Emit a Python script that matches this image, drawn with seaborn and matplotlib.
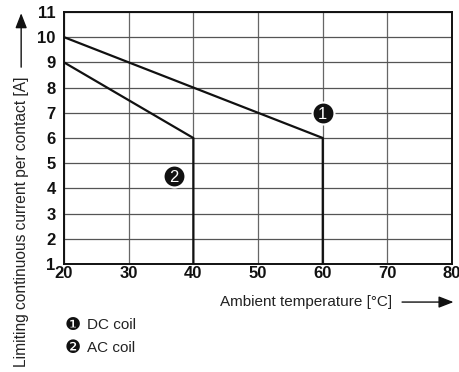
import numpy as np
import pandas as pd
import matplotlib
matplotlib.use("Agg")
import matplotlib.pyplot as plt
import seaborn as sns

# derating curves
temp_dc = [20, 60, 60]
current_dc = [10, 6, 1]
temp_ac = [20, 40, 40]
current_ac = [9, 6, 1]

coil_names = ["DC coil", "AC coil"]
badge_text = ["1", "2"]
badge_x = [60, 37]
badge_y = [7, 4.5]

x_ticks = [20, 30, 40, 50, 60, 70, 80]
y_ticks = list(range(1, 12))

df = pd.concat([
    pd.DataFrame({"temp": temp_dc, "current": current_dc, "coil": coil_names[0]}),
    pd.DataFrame({"temp": temp_ac, "current": current_ac, "coil": coil_names[1]}),
])

sns.set_theme(style="white")
plt.rcParams["font.family"] = ["Liberation Sans", "DejaVu Sans"]

fig = plt.figure(figsize=(4.6, 3.72), dpi=100)
ax = fig.add_axes([0.139, 0.290, 0.844, 0.678])

for x in x_ticks:
    ax.axvline(x, color="#666666", lw=0.9, zorder=1)
for y in y_ticks:
    ax.axhline(y, color="#555555", lw=0.9, zorder=1)

sns.lineplot(data=df, x="temp", y="current", hue="coil", units="coil",
             estimator=None, sort=False, palette=["#111111", "#111111"],
             lw=1.6, legend=False, ax=ax, zorder=3)

ax.scatter(badge_x, badge_y, s=250, color="#111111", edgecolor="white",
           linewidth=1.5, zorder=4)
for bx, by, t in zip(badge_x, badge_y, badge_text):
    ax.text(bx, by - 0.05, t, color="white", fontsize=12, ha="center",
            va="center", zorder=5)

ax.set_xlim(20, 80)
ax.set_ylim(1, 11)
ax.set_xticks(x_ticks)
ax.set_yticks(y_ticks)
ax.tick_params(axis="both", length=0, labelsize=12, colors="#111111")
ax.tick_params(axis="x", pad=1)
ax.tick_params(axis="y", pad=6)
for lab in ax.get_xticklabels() + ax.get_yticklabels():
    lab.set_fontweight("bold")
for s in ax.spines.values():
    s.set_color("#111111")
    s.set_linewidth(1.4)
ax.set_xlabel("")
ax.set_ylabel("")

# axis titles with arrows
fig.text(0.666, 0.188, "Ambient temperature [°C]", fontsize=11,
         ha="center", va="center", color="#222222")
fig.add_artist(matplotlib.patches.FancyArrowPatch(
    (0.868, 0.188), (0.992, 0.188), transform=fig.transFigure,
    arrowstyle="-|>,head_length=9,head_width=3.5", color="#111111", lw=1.0))

fig.text(0.046, 0.403, "Limiting continuous current per contact [A]",
         fontsize=11.2, rotation=90, ha="center", va="center", color="#222222")
fig.add_artist(matplotlib.patches.FancyArrowPatch(
    (0.046, 0.812), (0.046, 0.972), transform=fig.transFigure,
    arrowstyle="-|>,head_length=9,head_width=3.5", color="#111111", lw=1.0))

# legend
for i, name in enumerate(coil_names):
    yy = 0.126 - i * 0.062
    fig.text(0.157, yy, "\u2776\u2777"[i], fontsize=13, ha="center",
             va="center", color="#111111", family=["DejaVu Sans"])
    fig.text(0.189, yy, name, fontsize=11, ha="left", va="center",
             color="#222222")

fig.savefig("out.png", dpi=100)
